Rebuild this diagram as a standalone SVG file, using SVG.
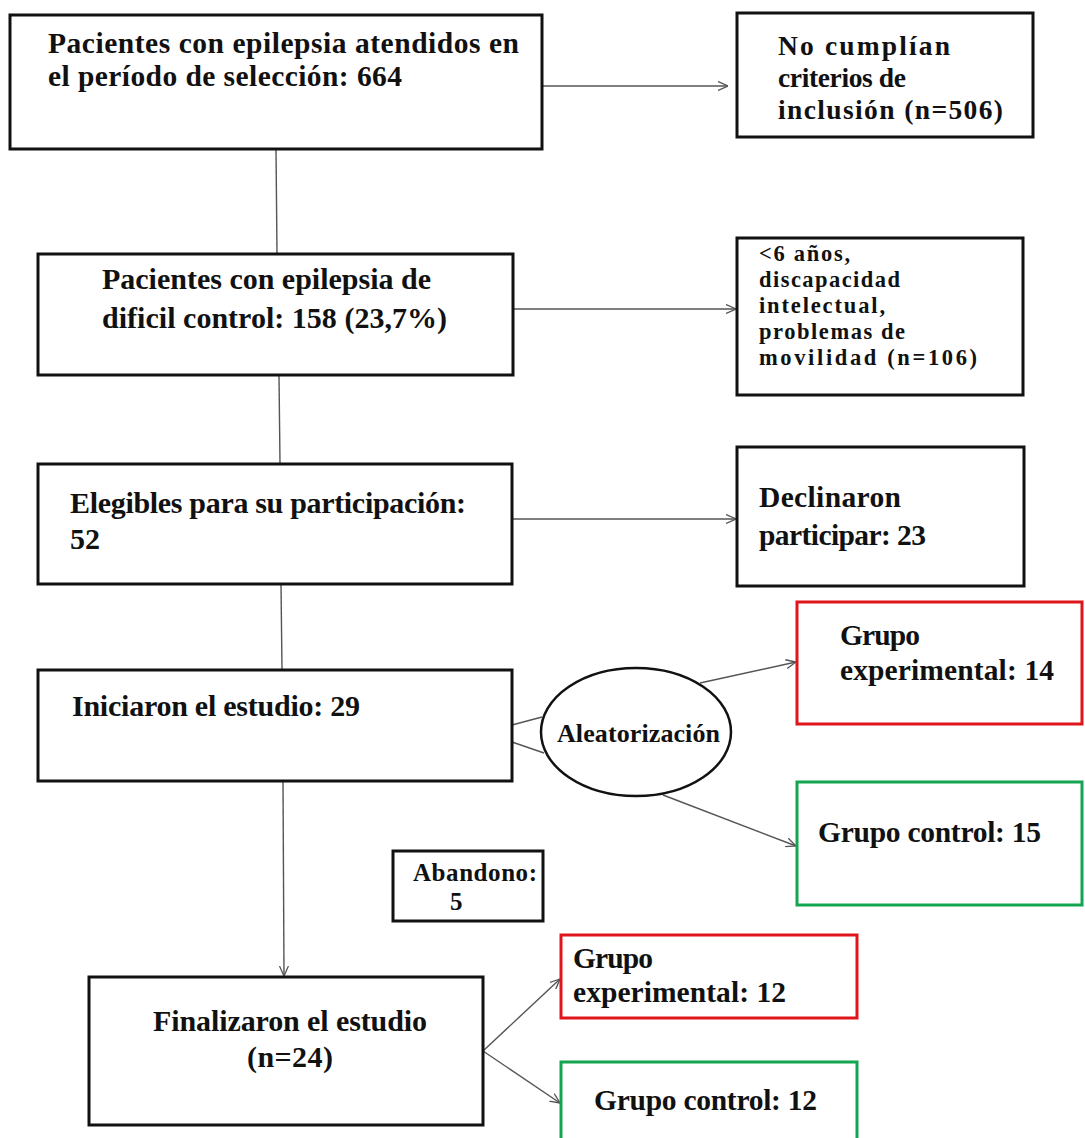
<svg xmlns="http://www.w3.org/2000/svg" width="1085" height="1138" viewBox="0 0 1085 1138">
<style>
.box{fill:#fff;stroke:#111;stroke-width:3}
.red{fill:#fff;stroke:#e0141b;stroke-width:3}
.green{fill:#fff;stroke:#14a550;stroke-width:3}
.t{font-family:"Liberation Serif","Times New Roman",serif;font-weight:bold;fill:#111}
.conn line{stroke:#555;stroke-width:1.4;fill:none}
</style>
<defs>
<marker id="arr" markerUnits="userSpaceOnUse" viewBox="0 0 10 10" refX="10" refY="5" markerWidth="10" markerHeight="10" orient="auto">
<path d="M0,0.5 L10,5 L0,9.5" fill="none" stroke="#555" stroke-width="1.3"/>
</marker>
</defs>
<rect width="1085" height="1138" fill="#fff"/>
<g class="conn">
<line x1="276" y1="149" x2="277" y2="254"/>
<line x1="542" y1="86" x2="728" y2="86" marker-end="url(#arr)"/>
<line x1="279" y1="375" x2="280" y2="464"/>
<line x1="513" y1="309" x2="736" y2="309" marker-end="url(#arr)"/>
<line x1="281" y1="584" x2="282" y2="670"/>
<line x1="512" y1="519" x2="736" y2="519" marker-end="url(#arr)"/>
<line x1="512" y1="725" x2="542" y2="717"/>
<line x1="512" y1="742" x2="544" y2="753"/>
<line x1="700" y1="683" x2="796" y2="662" marker-end="url(#arr)"/>
<line x1="663" y1="795" x2="796" y2="846" marker-end="url(#arr)"/>
<line x1="283" y1="781" x2="284" y2="976" marker-end="url(#arr)"/>
<line x1="483" y1="1051" x2="560" y2="979" marker-end="url(#arr)"/>
<line x1="483" y1="1051" x2="560" y2="1103" marker-end="url(#arr)"/>
</g>
<g id="n1">
<rect class="box" x="10" y="15" width="532" height="134"/>
<text class="t" font-size="29.5" x="48" y="53" textLength="471">Pacientes con epilepsia atendidos en</text>
<text class="t" font-size="29.5" x="48" y="86" textLength="354">el período de selección: 664</text>
</g>
<g id="n2">
<rect class="box" x="737" y="13" width="296" height="124"/>
<text class="t" font-size="27.5" x="778" y="55" textLength="172">No  cumplían</text>
<text class="t" font-size="27.5" x="778" y="87" textLength="128">criterios de</text>
<text class="t" font-size="27.5" x="778" y="119" textLength="225">inclusión (n=506)</text>
</g>
<g id="n3">
<rect class="box" x="38" y="254" width="475" height="121"/>
<text class="t" font-size="30" x="102" y="289" textLength="329">Pacientes con epilepsia de</text>
<text class="t" font-size="30" x="102" y="328" textLength="345">dificil control: 158 (23,7%)</text>
</g>
<g id="n4">
<rect class="box" x="737" y="238" width="286" height="157"/>
<text class="t" font-size="22.5" x="759" y="261" textLength="91">&lt;6 años,</text>
<text class="t" font-size="22.5" x="759" y="287" textLength="141">discapacidad</text>
<text class="t" font-size="22.5" x="759" y="313" textLength="126">intelectual,</text>
<text class="t" font-size="22.5" x="759" y="339" textLength="146">problemas de</text>
<text class="t" font-size="22.5" x="759" y="365" textLength="218">movilidad  (n=106)</text>
</g>
<g id="n5">
<rect class="box" x="38" y="464" width="474" height="120"/>
<text class="t" font-size="30" x="70" y="513" textLength="396">Elegibles para su participación:</text>
<text class="t" font-size="30" x="70" y="549">52</text>
</g>
<g id="n6">
<rect class="box" x="737" y="447" width="287" height="139"/>
<text class="t" font-size="29.5" x="759" y="507" textLength="142">Declinaron</text>
<text class="t" font-size="29.5" x="759" y="545" textLength="167">participar: 23</text>
</g>
<g id="n7">
<rect class="box" x="38" y="670" width="474" height="111"/>
<text class="t" font-size="30" x="72" y="716" textLength="288">Iniciaron el estudio: 29</text>
</g>
<g id="n8">
<ellipse cx="636" cy="732" rx="95" ry="64" fill="#fff" stroke="#111" stroke-width="2.5"/>
<text class="t" font-size="26" x="557" y="742" textLength="163">Aleatorización</text>
</g>
<g id="n9">
<rect class="red" x="797" y="602" width="285" height="122"/>
<text class="t" font-size="29.5" x="840" y="645" textLength="80">Grupo</text>
<text class="t" font-size="29.5" x="840" y="680" textLength="214">experimental: 14</text>
</g>
<g id="n10">
<rect class="green" x="797" y="782" width="285" height="123"/>
<text class="t" font-size="29.5" x="818" y="842" textLength="223">Grupo control: 15</text>
</g>
<g id="n11">
<rect class="box" x="393" y="851" width="150" height="70" stroke-width="2.5"/>
<text class="t" font-size="25" x="413" y="881" textLength="124">Abandono:</text>
<text class="t" font-size="25" x="450" y="910">5</text>
</g>
<g id="n12">
<rect class="box" x="89" y="977" width="394" height="148"/>
<text class="t" font-size="30" x="153" y="1031" textLength="274">Finalizaron el estudio</text>
<text class="t" font-size="30" x="247" y="1067" textLength="86">(n=24)</text>
</g>
<g id="n13">
<rect class="red" x="561" y="935" width="296" height="83"/>
<text class="t" font-size="29.5" x="573" y="968" textLength="80">Grupo</text>
<text class="t" font-size="29.5" x="573" y="1002" textLength="213">experimental: 12</text>
</g>
<g id="n14">
<rect class="green" x="561" y="1062" width="296" height="90"/>
<text class="t" font-size="29.5" x="594" y="1110" textLength="223">Grupo control: 12</text>
</g>
</svg>
